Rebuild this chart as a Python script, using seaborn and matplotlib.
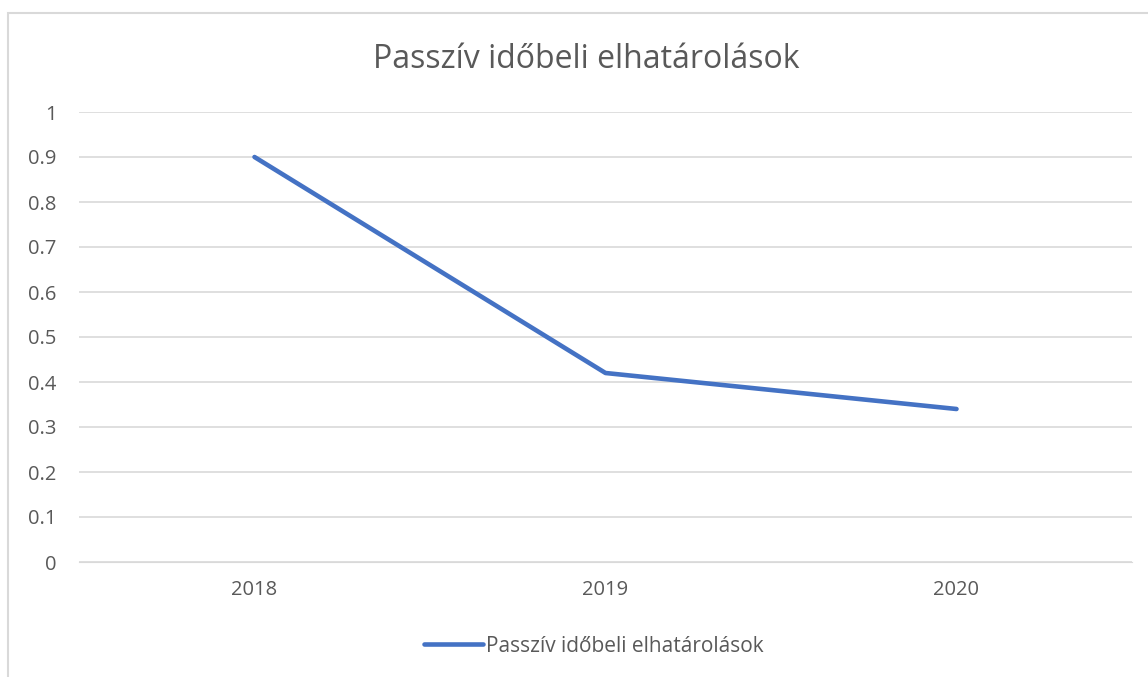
import matplotlib
matplotlib.use('Agg')
import matplotlib.pyplot as plt
import seaborn as sns
import pandas as pd
from matplotlib.patches import Rectangle

# adatok
evek = ['2018', '2019', '2020']
ertekek = [0.9, 0.42, 0.34]
cim = 'Passzív időbeli elhatárolások'

df = pd.DataFrame({'Év': evek, 'Érték': ertekek})

sns.set_style('white')
plt.rcParams['font.family'] = ['Open Sans', 'DejaVu Sans']

fig = plt.figure(figsize=(11.48, 6.77), dpi=100)
ax = fig.add_axes([79 / 1148, 1 - 562 / 677, (1132 - 79) / 1148, 450 / 677])

# keret a diagram körül
fig.patches.append(Rectangle((8 / 1148, -0.1), 1.2, 1.1 - 13 / 677, transform=fig.transFigure,
                             fill=False, edgecolor='#D9D9D9', linewidth=1.5, zorder=0))

sns.lineplot(data=df, x='Év', y='Érték', ax=ax, color='#4472C4', linewidth=3.3,
             label=cim, sort=False)

ax.set_xlim(-0.5, 2.5)
ax.set_ylim(0, 1)
ax.set_yticks([i / 10 for i in range(11)])
ax.set_yticklabels(['0', '0.1', '0.2', '0.3', '0.4', '0.5', '0.6', '0.7', '0.8', '0.9', '1'])
ax.grid(axis='y', color='#D9D9D9', linewidth=1.2)
ax.grid(axis='x', visible=False)
for s in ax.spines.values():
    s.set_visible(False)
ax.spines['bottom'].set_visible(True)
ax.spines['bottom'].set_color('#D9D9D9')
ax.tick_params(axis='both', length=0, labelsize=14.5, colors='#595959')
ax.tick_params(axis='x', pad=13)
ax.tick_params(axis='y', pad=16)
ax.set_xlabel('')
ax.set_ylabel('')

fig.text(586 / 1148, 1 - 60 / 677, cim, ha='center', va='center', fontsize=23, color='#595959')

ax.legend(loc='center', bbox_to_anchor=(594 / 1148, 1 - 646 / 677), bbox_transform=fig.transFigure,
          frameon=False, fontsize=15, handlelength=2.8, handletextpad=0.15, labelcolor='#595959')

fig.savefig('out.png', dpi=100)
